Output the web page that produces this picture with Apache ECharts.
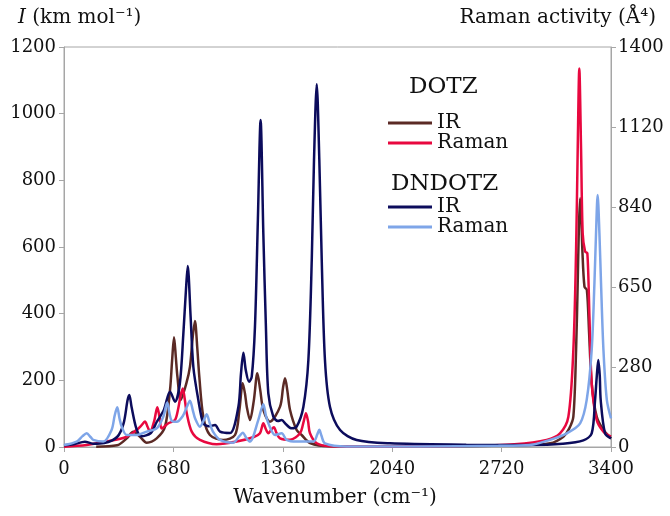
<!DOCTYPE html>
<html>
<head>
<meta charset="utf-8">
<script src="https://cdn.jsdelivr.net/npm/echarts@6/dist/echarts.min.js"></script>
<style>
  html, body { margin: 0; background: #fff; }
  #chart { width: 670px; height: 516px; }
</style>
</head>
<body>
<div id="chart"></div>
<script>
// wavenumber (cm-1), intensity pairs
// IR on the left axis (km/mol), Raman on the right axis (A^4)
const dotzIr = [
  [200, 1], [330, 5], [390, 26], [431, 46], [472, 31], [514, 13], [576, 26], [628, 61],
  [659, 171], [672, 260], [684, 329], [695, 270], [705, 211], [725, 141], [760, 190],
  [783, 241], [800, 330], [814, 378], [828, 300], [841, 211], [866, 91], [907, 36],
  [990, 21], [1063, 36], [1090, 110], [1111, 191], [1125, 160], [1136, 121], [1156, 81],
  [1180, 140], [1202, 221], [1220, 170], [1239, 111], [1280, 76], [1343, 121], [1362, 180],
  [1374, 206], [1388, 170], [1405, 111], [1446, 51], [1477, 36], [1529, 12], [1653, 2],
  [2000, 1], [2500, 2], [2800, 5], [3021, 11], [3104, 31], [3140, 55], [3166, 91],
  [3183, 291], [3193, 491], [3200, 650], [3208, 746], [3216, 680], [3222, 591],
  [3235, 481], [3250, 471], [3264, 341], [3280, 191], [3311, 91], [3353, 51], [3400, 26]
];

const dotzRaman = [
  [0, 1], [141, 7], [265, 19], [390, 36], [452, 60], [480, 75], [503, 89], [520, 70],
  [535, 54], [560, 90], [580, 139], [595, 100], [607, 65], [649, 83], [690, 95], [710, 135],
  [725, 180], [738, 205], [750, 170], [763, 118], [794, 54], [845, 25], [949, 10],
  [1073, 19], [1180, 35], [1218, 48], [1239, 83], [1255, 62], [1270, 48], [1290, 62],
  [1305, 69], [1320, 50], [1343, 30], [1405, 25], [1467, 48], [1490, 90], [1504, 118],
  [1517, 90], [1529, 48], [1571, 13], [1653, 3], [2000, 2], [2500, 4], [2800, 10],
  [3000, 25], [3083, 48], [3135, 106], [3166, 340], [3183, 690], [3193, 1040],
  [3203, 1325], [3214, 1040], [3224, 748], [3239, 684], [3253, 678], [3266, 456],
  [3280, 223], [3311, 95], [3353, 54], [3400, 36]
];

const dndotzIr = [
  [0, 5], [60, 8], [130, 16], [180, 10], [250, 12], [330, 30], [370, 70], [395, 140],
  [406, 156], [420, 120], [450, 55], [480, 32], [540, 42], [576, 75], [620, 110],
  [659, 166], [690, 136], [720, 190], [742, 341], [758, 471], [769, 543], [787, 391],
  [804, 240], [835, 141], [866, 71], [900, 62], [939, 66], [970, 46], [1032, 42],
  [1084, 121], [1100, 220], [1115, 283], [1130, 230], [1150, 196], [1167, 211],
  [1187, 361], [1205, 680], [1222, 981], [1239, 640], [1255, 361], [1270, 161],
  [1301, 91], [1330, 78], [1353, 81], [1380, 68], [1415, 56], [1446, 61], [1488, 121],
  [1519, 261], [1540, 561], [1554, 861], [1571, 1088], [1587, 861], [1602, 561],
  [1622, 261], [1653, 121], [1716, 51], [1819, 21], [2026, 11], [2500, 7], [2900, 6],
  [3100, 10], [3228, 20], [3280, 41], [3301, 141], [3312, 215], [3321, 261], [3330, 215],
  [3336, 141], [3363, 41], [3400, 26]
];

const dndotzRaman = [
  [0, 7], [79, 19], [115, 38], [141, 48], [165, 35], [182, 25], [244, 19], [296, 60],
  [315, 110], [331, 139], [345, 100], [359, 71], [390, 42], [452, 42], [514, 54],
  [576, 65], [617, 106], [642, 156], [655, 120], [669, 92], [700, 88], [740, 110],
  [763, 140], [783, 162], [800, 130], [815, 100], [845, 71], [870, 95], [887, 115],
  [905, 85], [925, 55], [970, 25], [1052, 15], [1090, 38], [1111, 50], [1135, 30],
  [1156, 19], [1208, 95], [1239, 150], [1255, 110], [1270, 83], [1312, 42], [1353, 48],
  [1384, 25], [1446, 19], [1550, 19], [1575, 45], [1587, 60], [1600, 40], [1622, 13],
  [1757, 2], [2200, 2], [2700, 4], [2897, 7], [3021, 25], [3125, 48], [3208, 83],
  [3249, 165], [3280, 340], [3297, 573], [3307, 748], [3317, 882], [3328, 748],
  [3338, 573], [3353, 340], [3374, 165], [3400, 100]
];

// right axis labels as printed in the figure
const rightTickLabels = ['0', '280', '650', '840', '1120', '1400'];

const FONT = 'DejaVu Serif';
const axisGray = '#a6a6a6';

const chart = echarts.init(document.getElementById('chart'));

function line(name, data, color, yAxisIndex) {
  return {
    name: name,
    type: 'line',
    data: data,
    yAxisIndex: yAxisIndex,
    showSymbol: false,
    smooth: 0.3,
    color: color,
    lineStyle: { width: 2.5, color: color },
  };
}

const option = {
  animation: false,
  backgroundColor: '#fff',
  textStyle: { fontFamily: FONT, color: '#111' },

  grid: {
    left: 64,
    right: 59,
    top: 47,
    bottom: 69,
    show: true,
    borderColor: axisGray,
    borderWidth: 1,
  },

  legend: [
    {
      data: ['DOTZ IR', 'DOTZ Raman'],
      orient: 'vertical',
      left: 383,
      top: 108,
      itemWidth: 44,
      itemHeight: 3,
      itemGap: 0,
      icon: 'rect',
      formatter: (n) => n.split(' ')[1],
      textStyle: { fontFamily: FONT, fontSize: 20, color: '#111', lineHeight: 20 },
    },
    {
      data: ['DNDOTZ IR', 'DNDOTZ Raman'],
      orient: 'vertical',
      left: 383,
      top: 192,
      itemWidth: 44,
      itemHeight: 3,
      itemGap: 0,
      icon: 'rect',
      formatter: (n) => n.split(' ')[1],
      textStyle: { fontFamily: FONT, fontSize: 20, color: '#111', lineHeight: 20 },
    },
  ],

  graphic: [
    {
      type: 'text', left: 18, top: 8,
      style: {
        text: '{i|I} (km mol⁻¹)',
        font: '20px "DejaVu Serif"', fill: '#111',
        rich: { i: { fontStyle: 'italic', fontFamily: FONT, fontSize: 20 } },
      },
    },
    {
      type: 'text', right: 14, top: 8,
      style: { text: 'Raman activity (Å⁴)', font: '20px "DejaVu Serif"', fill: '#111' },
    },
    {
      type: 'text', left: 'center', top: 488,
      style: { text: 'Wavenumber (cm⁻¹)', font: '20px "DejaVu Serif"', fill: '#111' },
    },
    {
      type: 'text', left: 409, top: 76,
      style: { text: 'DOTZ', font: '23px "DejaVu Serif"', fill: '#111' },
    },
    {
      type: 'text', left: 391, top: 173,
      style: { text: 'DNDOTZ', font: '23px "DejaVu Serif"', fill: '#111' },
    },
  ],

  xAxis: {
    type: 'value',
    min: 0,
    max: 3400,
    interval: 680,
    splitLine: { show: false },
    axisLine: { lineStyle: { color: axisGray } },
    axisTick: { length: 5, lineStyle: { color: axisGray } },
    axisLabel: {
      fontFamily: FONT, fontSize: 18, color: '#111', margin: 13,
      formatter: (v) => String(v),
    },
  },

  yAxis: [
    {
      type: 'value',
      min: 0,
      max: 1200,
      interval: 200,
      splitLine: { show: false },
      axisLine: { show: true, lineStyle: { color: axisGray } },
      axisTick: { show: true, length: 5, lineStyle: { color: axisGray } },
      axisLabel: {
        fontFamily: FONT, fontSize: 18, color: '#111', margin: 8,
        formatter: (v) => String(v),
      },
    },
    {
      type: 'value',
      position: 'right',
      min: 0,
      max: 1400,
      interval: 280,
      splitLine: { show: false },
      axisLine: { show: true, lineStyle: { color: axisGray } },
      axisTick: { show: true, length: 5, lineStyle: { color: axisGray } },
      axisLabel: {
        fontFamily: FONT, fontSize: 18, color: '#111', margin: 7,
        formatter: (v) => rightTickLabels[Math.round(v / 280)],
      },
    },
  ],

  series: [
    line('DOTZ IR', dotzIr, '#5b2a25', 0),
    line('DOTZ Raman', dotzRaman, '#e8083f', 1),
    line('DNDOTZ IR', dndotzIr, '#0c0c5c', 0),
    line('DNDOTZ Raman', dndotzRaman, '#7ea5e8', 1),
  ],
};

chart.setOption(option);
</script>
</body>
</html>
